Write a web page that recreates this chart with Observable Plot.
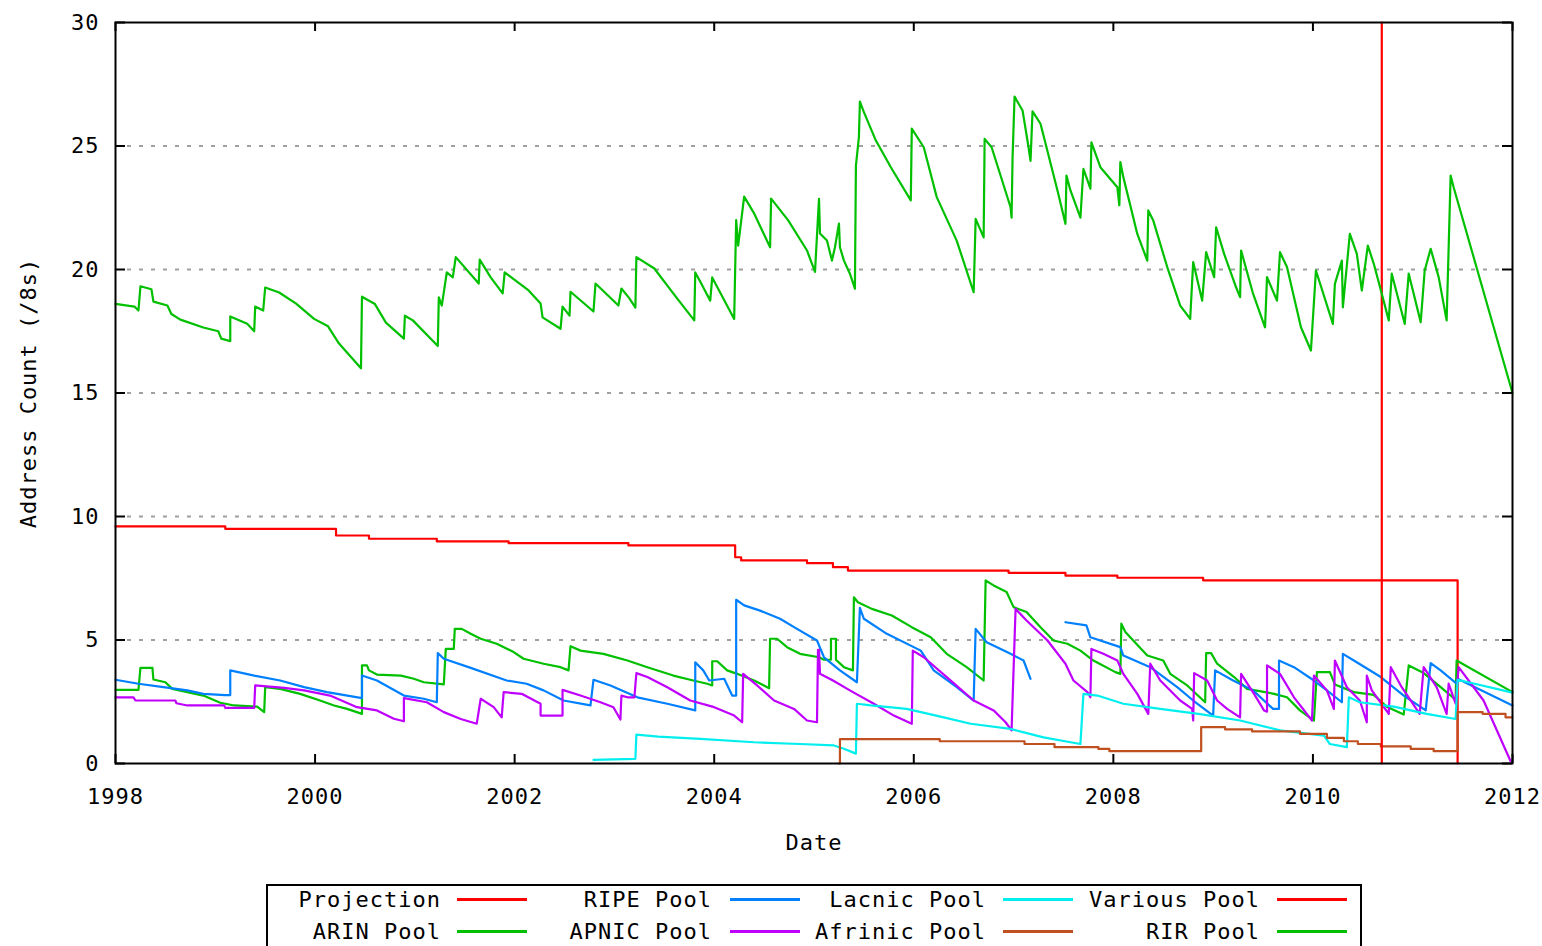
<!DOCTYPE html>
<html>
<head>
<meta charset="utf-8">
<script src="https://cdn.jsdelivr.net/npm/d3@7"></script>
<script src="https://cdn.jsdelivr.net/npm/@observablehq/plot@0.6"></script>
<style>
  body { margin: 0; background: #fff; font-family: "DejaVu Sans Mono", monospace; }
  #chart svg text { letter-spacing: 1px; }
  #legend { position: absolute; left: 266px; top: 884px; width: 1096px; height: 84px;
            box-sizing: border-box; border: 2px solid #000; background: #fff; }
  #legend .lab { position: absolute; width: 240px; text-align: right; font-size: 22px;
                 line-height: 24px; letter-spacing: 1px; color: #000; white-space: nowrap; }
  #legend .smp { position: absolute; width: 70px; height: 3px; }
</style>
</head>
<body>
<div id="chart"></div>
<div id="legend"></div>
<script>
// ---- data: [decimal year, address count (/8s)] ----
const projection = [[1998.00,9.6],[1999.10,9.5],[2000.21,9.23],[2000.54,9.1],[2001.22,8.99],[2001.94,8.92],
  [2003.14,8.83],[2004.21,8.35],[2004.27,8.22],[2004.93,8.11],[2005.19,7.95],[2005.34,7.81],[2006.95,7.72],
  [2007.52,7.61],[2008.04,7.52],[2008.90,7.41],[2011.45,0]];

const arinPool = [[1998.00,2.98],[1998.23,2.98],[1998.25,3.87],[1998.37,3.87],[1998.38,3.4],[1998.50,3.29],
  [1998.57,3.02],[1998.72,2.89],[1998.88,2.75],[1999.05,2.46],[1999.19,2.35],[1999.42,2.3],[1999.49,2.08],
  [1999.50,3.09],[1999.65,3.02],[1999.85,2.82],[2000.05,2.55],[2000.19,2.35],[2000.32,2.21],[2000.47,2.01],
  [2000.47,3.97],[2000.52,3.97],[2000.54,3.77],[2000.62,3.6],[2000.86,3.56],[2000.99,3.43],[2001.09,3.29],
  [2001.29,3.2],[2001.31,4.64],[2001.39,4.64],[2001.40,5.45],[2001.47,5.45],[2001.56,5.25],[2001.66,5.05],
  [2001.82,4.85],[2001.99,4.51],[2002.09,4.24],[2002.29,4.04],[2002.46,3.9],[2002.54,3.77],[2002.56,4.75],
  [2002.66,4.57],[2002.89,4.44],[2003.13,4.17],[2003.33,3.9],[2003.59,3.56],[2003.79,3.36],[2003.93,3.23],
  [2003.98,3.16],[2003.98,4.14],[2004.03,4.14],[2004.13,3.77],[2004.23,3.63],[2004.40,3.36],[2004.55,3.05],
  [2004.56,5.05],[2004.63,5.05],[2004.73,4.71],[2004.86,4.44],[2005.05,4.3],[2005.10,4.2],[2005.17,4.2],
  [2005.17,5.05],[2005.22,5.05],[2005.22,4.2],[2005.30,3.9],[2005.39,3.77],[2005.40,6.73],[2005.44,6.53],
  [2005.58,6.26],[2005.78,5.99],[2005.98,5.52],[2006.17,5.11],[2006.33,4.44],[2006.53,3.9],[2006.70,3.36],
  [2006.72,7.41],[2006.80,7.21],[2006.93,6.94],[2007.00,6.33],[2007.13,6.13],[2007.27,5.52],[2007.40,4.98],
  [2007.54,4.85],[2007.67,4.57],[2007.80,4.17],[2008.02,3.7],[2008.07,3.63],[2008.08,5.66],[2008.12,5.32],
  [2008.34,4.37],[2008.50,4.17],[2008.57,3.63],[2008.74,3.16],[2008.92,2.48],[2008.93,4.47],[2008.98,4.47],
  [2009.04,4.04],[2009.21,3.5],[2009.34,3.02],[2009.61,2.82],[2009.74,2.68],[2009.87,2.15],[2010.01,1.74],
  [2010.04,3.7],[2010.17,3.7],[2010.22,3.2],[2010.41,2.89],[2010.61,2.78],[2010.74,2.3],[2010.91,1.98],
  [2010.96,3.97],[2011.11,3.66],[2011.28,3.09],[2011.43,2.58],[2011.44,4.17],[2012.00,2.89]];

const ripePool = [[1998.00,3.39],[1998.23,3.23],[1998.48,3.09],[1998.72,2.96],[1998.88,2.82],[1999.10,2.77],
  [1999.15,2.77],[1999.15,3.77],[1999.39,3.56],[1999.65,3.36],[1999.89,3.09],[2000.12,2.89],[2000.47,2.65],
  [2000.47,3.56],[2000.62,3.36],[2000.89,2.75],[2001.09,2.62],[2001.22,2.48],[2001.23,4.47],[2001.29,4.24],
  [2001.56,3.87],[2001.92,3.36],[2002.12,3.23],[2002.29,2.96],[2002.49,2.55],[2002.76,2.35],[2002.79,3.39],
  [2002.96,3.16],[2003.23,2.68],[2003.53,2.42],[2003.81,2.15],[2003.81,4.1],[2003.89,3.77],[2003.95,3.36],
  [2004.10,3.43],[2004.18,2.75],[2004.22,2.75],[2004.22,6.63],[2004.30,6.4],[2004.46,6.19],[2004.66,5.86],
  [2004.80,5.52],[2005.03,4.98],[2005.10,4.3],[2005.26,3.77],[2005.43,3.29],[2005.46,6.3],[2005.50,5.86],
  [2005.73,5.25],[2006.07,4.57],[2006.20,3.77],[2006.43,3.09],[2006.60,2.55],[2006.62,5.45],[2006.73,4.91],
  [2006.97,4.44],[2007.10,4.17],[2007.17,3.43],[2007.18,NaN],[2007.52,5.72],[2007.73,5.59],[2007.77,5.11],
  [2008.07,4.71],[2008.10,4.37],[2008.37,3.9],[2008.64,3.09],[2008.80,2.55],[2009.00,1.94],[2009.02,3.77],
  [2009.20,3.36],[2009.40,2.96],[2009.60,2.21],[2009.66,2.21],[2009.66,4.17],[2009.81,3.9],[2010.01,3.36],
  [2010.14,2.96],[2010.29,2.48],[2010.30,4.44],[2010.41,4.17],[2010.68,3.5],[2010.91,2.75],[2011.13,2.15],
  [2011.18,4.06],[2011.28,3.77],[2011.44,3.23],[2011.45,3.43],[2012.00,2.35]];

const apnicPool = [[1998.00,2.68],[1998.18,2.68],[1998.20,2.55],[1998.60,2.55],[1998.61,2.44],[1998.72,2.35],
  [1999.09,2.35],[1999.10,2.25],[1999.39,2.25],[1999.40,3.16],[1999.69,3.06],[1999.89,2.96],[2000.15,2.75],
  [2000.42,2.28],[2000.62,2.15],[2000.79,1.81],[2000.89,1.71],[2000.89,2.65],[2001.12,2.48],[2001.29,2.08],
  [2001.46,1.8],[2001.62,1.61],[2001.66,2.62],[2001.79,2.28],[2001.87,1.87],[2001.89,2.89],[2002.07,2.82],
  [2002.26,2.42],[2002.26,1.94],[2002.48,1.94],[2002.48,2.98],[2002.66,2.75],[2002.86,2.48],[2002.99,2.28],
  [2003.06,1.78],[2003.07,2.75],[2003.13,2.68],[2003.20,2.68],[2003.22,3.66],[2003.33,3.5],[2003.53,3.09],
  [2003.76,2.55],[2004.00,2.28],[2004.20,1.94],[2004.28,1.67],[2004.29,3.63],[2004.43,3.16],[2004.60,2.55],
  [2004.80,2.21],[2004.93,1.74],[2005.03,1.67],[2005.04,4.6],[2005.05,4.6],[2005.06,3.63],[2005.19,3.36],
  [2005.39,2.89],[2005.60,2.42],[2005.80,1.94],[2005.98,1.61],[2005.99,4.57],[2006.10,4.3],[2006.33,3.5],
  [2006.60,2.55],[2006.80,2.15],[2006.92,1.67],[2006.98,1.34],[2007.02,6.26],[2007.13,5.79],[2007.34,4.98],
  [2007.52,4.04],[2007.60,3.36],[2007.74,2.89],[2007.77,2.68],[2007.78,4.64],[2007.90,4.44],[2008.04,4.17],
  [2008.10,3.63],[2008.24,2.82],[2008.35,2.01],[2008.37,4.04],[2008.47,3.36],[2008.67,2.55],[2008.79,2.21],
  [2008.80,1.74],[2008.81,3.66],[2008.94,3.36],[2009.04,2.55],[2009.14,2.21],[2009.27,1.87],[2009.28,3.63],
  [2009.41,2.82],[2009.51,2.15],[2009.54,2.1],[2009.54,3.97],[2009.67,3.63],[2009.81,2.68],[2009.99,1.74],
  [2010.01,3.56],[2010.14,2.96],[2010.21,2.21],[2010.22,4.17],[2010.34,3.09],[2010.47,2.55],[2010.54,1.67],
  [2010.54,3.56],[2010.59,2.96],[2010.76,2.01],[2010.78,3.9],[2010.89,3.09],[2011.07,2.01],[2011.11,3.9],
  [2011.24,3.09],[2011.34,2.01],[2011.36,3.23],[2011.43,2.42],[2011.46,3.9],[2011.71,2.55],[2011.98,0.1]];

const lacnicPool = [[2002.79,0.15],[2003.21,0.19],[2003.22,1.17],[2003.44,1.09],[2003.86,1.0],[2004.40,0.86],
  [2004.86,0.79],[2005.20,0.73],[2005.30,0.6],[2005.42,0.4],[2005.43,2.42],[2005.57,2.35],[2005.93,2.21],
  [2006.30,1.87],[2006.57,1.61],[2006.97,1.4],[2007.30,1.06],[2007.67,0.79],[2007.70,2.82],[2007.84,2.75],
  [2008.10,2.42],[2008.47,2.21],[2008.87,2.0],[2009.27,1.74],[2009.67,1.34],[2010.11,1.13],[2010.17,0.79],
  [2010.34,0.66],[2010.36,2.68],[2010.47,2.48],[2010.81,2.3],[2011.14,2.01],[2011.43,1.8],[2011.45,3.39],
  [2012.00,2.87]];

const afrinicPool = [[2005.25,0],[2005.26,0.99],[2006.26,0.9],[2007.11,0.79],[2007.41,0.66],[2007.85,0.59],
  [2007.96,0.5],[2008.88,1.47],[2009.12,1.38],[2009.39,1.3],[2009.87,1.2],[2010.14,1.04],[2010.31,0.9],
  [2010.45,0.79],[2010.68,0.69],[2010.98,0.59],[2011.21,0.5],[2011.45,2.08],[2011.70,2.01],[2011.93,1.87],
  [2012.00,1.87]];

const variousPool = [[2010.69,0],[2010.69,30]];

const rirPool = [[1998.00,18.61],[1998.19,18.5],[1998.23,18.34],[1998.25,19.32],[1998.36,19.2],[1998.38,18.7],
  [1998.52,18.54],[1998.56,18.2],[1998.65,17.97],[1998.88,17.65],[1999.03,17.5],[1999.06,17.2],[1999.15,17.1],
  [1999.15,18.1],[1999.32,17.8],[1999.39,17.5],[1999.40,18.5],[1999.48,18.34],[1999.50,19.27],[1999.64,19.07],
  [1999.81,18.62],[1999.99,18.0],[2000.13,17.7],[2000.24,17.0],[2000.46,16.0],[2000.47,18.9],[2000.60,18.6],
  [2000.71,17.85],[2000.89,17.2],[2000.90,18.13],[2000.98,17.94],[2001.23,16.9],[2001.24,18.87],[2001.27,18.54],
  [2001.32,19.88],[2001.38,19.68],[2001.41,20.5],[2001.64,19.43],[2001.65,20.4],[2001.76,19.68],[2001.88,19.03],
  [2001.90,19.88],[2002.14,19.15],[2002.26,18.62],[2002.28,18.06],[2002.46,17.6],[2002.48,18.5],[2002.55,18.13],
  [2002.56,19.1],[2002.79,18.3],[2002.81,19.43],[2003.04,18.54],[2003.07,19.23],[2003.15,18.83],[2003.21,18.46],
  [2003.22,20.5],[2003.40,20.04],[2003.62,18.87],[2003.80,17.94],[2003.81,19.88],[2003.87,19.43],[2003.96,18.74],
  [2003.98,19.68],[2004.20,18.0],[2004.22,22.0],[2004.24,20.97],[2004.30,22.95],[2004.40,22.27],[2004.56,20.9],
  [2004.57,22.87],[2004.74,22.0],[2004.93,20.77],[2005.01,19.9],[2005.03,21.38],[2005.05,22.86],[2005.06,21.46],
  [2005.13,21.17],[2005.18,20.36],[2005.21,20.9],[2005.25,21.86],[2005.26,20.9],[2005.30,20.36],[2005.36,19.83],
  [2005.41,19.22],[2005.42,24.2],[2005.45,25.36],[2005.46,26.8],[2005.50,26.37],[2005.62,25.22],[2005.77,24.14],
  [2005.97,22.8],[2005.98,25.7],[2006.10,24.95],[2006.23,22.93],[2006.43,21.17],[2006.60,19.08],[2006.62,22.05],
  [2006.70,21.3],[2006.71,25.29],[2006.78,24.95],[2006.97,22.52],[2006.98,22.1],[2006.99,24.55],[2007.01,27.0],
  [2007.09,26.44],[2007.15,24.95],[2007.17,24.4],[2007.19,26.4],[2007.27,25.9],[2007.44,23.2],[2007.52,21.85],
  [2007.53,23.8],[2007.57,23.2],[2007.67,22.1],[2007.70,24.07],[2007.77,23.27],[2007.78,25.15],[2007.87,24.14],
  [2008.04,23.33],[2008.06,22.6],[2008.07,24.35],[2008.10,23.74],[2008.24,21.44],[2008.34,20.36],[2008.35,22.39],
  [2008.40,21.98],[2008.54,20.1],[2008.67,18.54],[2008.77,18.0],[2008.80,20.3],[2008.89,18.74],[2008.93,20.7],
  [2009.01,19.69],[2009.03,21.71],[2009.11,20.63],[2009.23,19.28],[2009.27,18.88],[2009.28,20.77],[2009.40,19.02],
  [2009.52,17.66],[2009.54,19.69],[2009.64,18.74],[2009.67,20.7],[2009.74,20.1],[2009.88,17.66],[2009.98,16.72],
  [2010.03,19.96],[2010.20,17.8],[2010.22,19.42],[2010.29,20.36],[2010.30,18.47],[2010.37,21.44],[2010.44,20.63],
  [2010.49,19.15],[2010.55,20.97],[2010.61,20.23],[2010.69,19.02],[2010.76,17.94],[2010.79,19.83],[2010.92,17.8],
  [2010.96,19.83],[2011.08,17.87],[2011.12,19.96],[2011.18,20.84],[2011.26,19.69],[2011.34,17.94],[2011.38,23.8],
  [2011.41,23.33],[2012.00,15.0]];

const xTicks = [1998, 2000, 2002, 2004, 2006, 2008, 2010, 2012];
const yTicks = [0, 5, 10, 15, 20, 25, 30];
const gridValues = [5, 10, 15, 20, 25];

const seriesNames = ["Projection", "ARIN Pool", "RIPE Pool", "APNIC Pool", "Lacnic Pool", "Afrinic Pool", "Various Pool", "RIR Pool"];
const seriesColors = ["#ff0000", "#00c000", "#0080ff", "#c000ff", "#00eeee", "#c05020", "#ff0000", "#00c000"];
const seriesData = [projection, arinPool, ripePool, apnicPool, lacnicPool, afrinicPool, variousPool, rirPool];
const stepSeries = ["Projection", "Afrinic Pool"];

// ---- chart ----
const W = 1542, H = 870;
const mL = 115, mR = 30, mT = 22, mB = 107;
const frameW = W - mL - mR, frameH = H - mT - mB;

const rows = d => d.map(([date, value]) => ({date, value}));

const lineMarks = seriesNames.map((name, i) =>
  Plot.line(rows(seriesData[i]), {
    x: "date", y: "value",
    stroke: seriesColors[i], strokeWidth: 2.2,
    curve: stepSeries.includes(name) ? "step-after" : "linear"
  })
);

const chart = Plot.plot({
  width: W, height: H,
  marginLeft: mL, marginRight: mR, marginTop: mT, marginBottom: mB,
  x: {domain: [1998, 2012], label: null},
  y: {domain: [0, 30], label: null},
  style: {fontFamily: "DejaVu Sans Mono", fontSize: "22px", color: "#000", background: "#fff", overflow: "visible"},
  marks: [
    Plot.ruleY(gridValues, {stroke: "#a0a0a0", strokeWidth: 2, strokeDasharray: "4,8", insetLeft: 12, insetRight: 12}),
    ...lineMarks,
    Plot.frame({stroke: "#000", strokeWidth: 2}),
    Plot.ruleY(yTicks, {stroke: "#000", strokeWidth: 2, insetRight: frameW - 10}),
    Plot.ruleY(yTicks, {stroke: "#000", strokeWidth: 2, insetLeft: frameW - 10}),
    Plot.ruleX(xTicks, {stroke: "#000", strokeWidth: 2, insetTop: frameH - 9}),
    Plot.ruleX(xTicks, {stroke: "#000", strokeWidth: 2, insetBottom: frameH - 9}),
    Plot.axisX({ticks: xTicks, tickSize: 0, tickPadding: 25, tickFormat: d => String(d), label: null, fontSize: 22}),
    Plot.axisY({ticks: yTicks, tickSize: 0, tickPadding: 16, tickFormat: d => String(d), label: null, fontSize: 22}),
    Plot.text(["Address Count (/8s)"], {text: d => d, frameAnchor: "left", rotate: -90, dx: -87, textAnchor: "middle", fontSize: 22}),
    Plot.text(["Date"], {text: d => d, frameAnchor: "bottom", dy: 86, textAnchor: "middle", fontSize: 22})
  ]
});
document.getElementById("chart").appendChild(chart);

// ---- legend (below the chart) ----
const legend = document.getElementById("legend");
const colText = [173, 444, 718, 992];
const colLine = [189, 462, 735, 1009];
const rowText = [2, 34];
const rowLine = [12, 44];
seriesNames.forEach((name, i) => {
  const col = Math.floor(i / 2), row = i % 2;
  const lab = document.createElement("div");
  lab.className = "lab";
  lab.textContent = name;
  lab.style.left = (colText[col] - 240) + "px";
  lab.style.top = rowText[row] + "px";
  legend.appendChild(lab);
  const smp = document.createElement("div");
  smp.className = "smp";
  smp.style.left = colLine[col] + "px";
  smp.style.top = rowLine[row] + "px";
  smp.style.background = seriesColors[i];
  legend.appendChild(smp);
});
</script>
</body>
</html>
